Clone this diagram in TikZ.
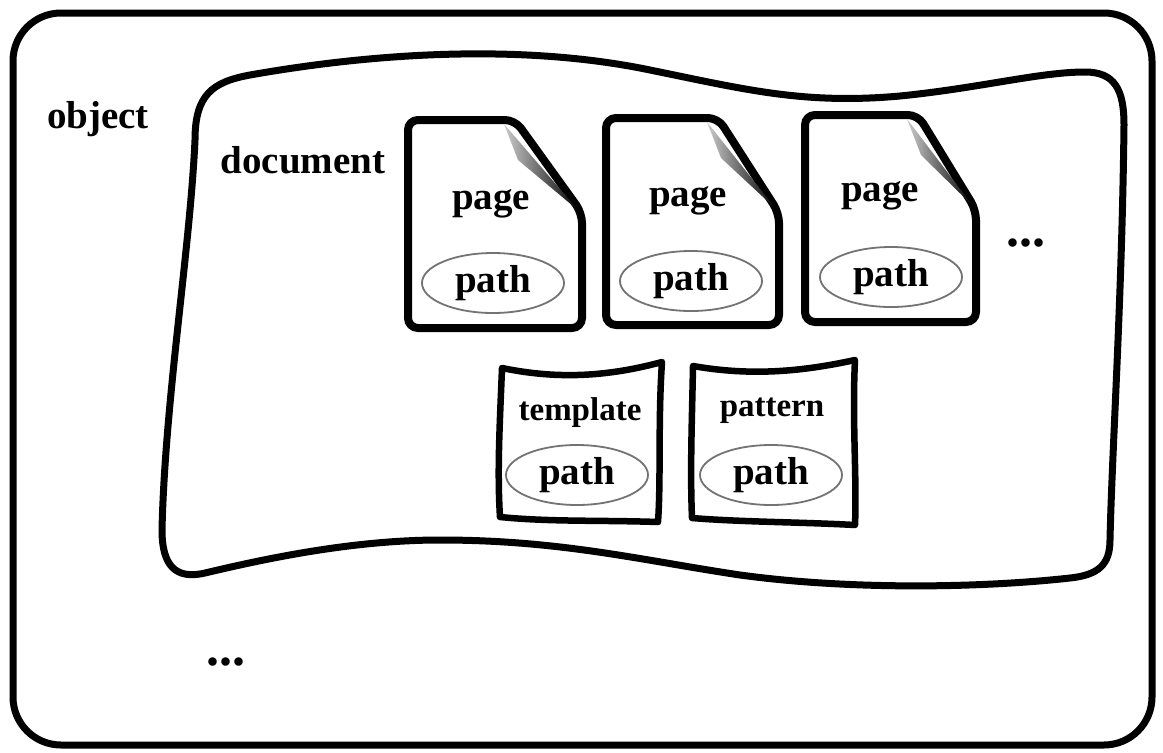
\documentclass[tikz,border=0pt]{standalone}
\usepackage{fontspec}
\setmainfont{Liberation Serif}
\usetikzlibrary{positioning, calc, shapes.geometric}

\begin{document}
\begin{tikzpicture}[x=1pt, y=-1pt,
    frame/.style={line width=7pt, rounded corners=48pt},
    blob/.style={line width=7pt, line join=round},
    sheet/.style={line width=8pt, rounded corners=10pt, fill=white},
    card/.style={line width=6.5pt, line join=round, fill=white},
    fold/.style={left color=black!20, right color=black},
    label/.style={font=\fontsize{39}{39}\selectfont\bfseries, inner sep=0pt},
    small/.style={font=\fontsize{33}{33}\selectfont\bfseries, inner sep=0pt},
    dots/.style={font=\fontsize{52}{52}\selectfont\bfseries, inner sep=0pt},
    pathnode/.style={ellipse, draw=black!55, line width=1.8pt, minimum width=142pt, minimum height=60pt, inner sep=0pt, font=\fontsize{39}{39}\selectfont\bfseries},
]
\useasboundingbox (0,0) rectangle (1163,753);

% outer object frame
\draw[frame] (13,13) rectangle (1152,745);
\node[label] (object) at (98,119) {object};

% document outline
\draw[blob] (195,140) .. controls (195,95) and (212,82) .. (250,75)
    .. controls (380,52) and (520,45) .. (640,68)
    .. controls (740,88) and (800,105) .. (900,96)
    .. controls (980,88) and (1040,72) .. (1085,72)
    .. controls (1115,72) and (1124,90) .. (1124,125)
    .. controls (1122,300) and (1112,450) .. (1110,540)
    .. controls (1110,565) and (1098,575) .. (1070,578)
    .. controls (980,588) and (850,590) .. (740,575)
    .. controls (640,560) and (560,540) .. (440,540)
    .. controls (350,540) and (260,560) .. (205,573)
    .. controls (175,580) and (162,565) .. (162,530)
    .. controls (165,400) and (190,250) .. cycle;
\node[label] (document) at (303,160) {document};

% pages, each with its curled corner
\draw[sheet] (408,120) -- (515,120) -- (582,213) -- (582,328) -- (408,328) -- cycle;
\shade[fold] (504,124) -- (579,211) -- (518,160) -- cycle;
\draw[sheet] (606,118) -- (718,118) -- (779,213) -- (779,325) -- (606,325) -- cycle;
\shade[fold] (707,122) -- (776,209) -- (721,158) -- cycle;
\draw[sheet] (805,115) -- (918,115) -- (976,210) -- (976,322) -- (805,322) -- cycle;
\shade[fold] (907,119) -- (973,206) -- (921,155) -- cycle;

\node[label] (page1) at (491,204) {page};
\node[label] (page2) at (688,201) {page};
\node[label] (page3) at (880,196) {page};
\node[pathnode] (path1) at (493,283) {path};
\node[pathnode] (path2) at (691,281) {path};
\node[pathnode] (path3) at (891,277) {path};
\node[dots] (more1) at (1026,243) {...};

% template and pattern cards
\draw[card] (502,368) .. controls (560,380) and (610,376) .. (662,362)
    .. controls (658,420) and (661,480) .. (658,522)
    .. controls (600,520) and (550,522) .. (500,517)
    .. controls (497,470) and (500,420) .. cycle;
\draw[card] (693,366) .. controls (750,376) and (800,372) .. (855,360)
    .. controls (852,420) and (857,480) .. (855,525)
    .. controls (800,522) and (740,522) .. (692,518)
    .. controls (690,470) and (692,420) .. cycle;

\node[small] (template) at (580,413) {template};
\node[small] (pattern) at (772,411) {pattern};
\node[pathnode] (path4) at (577,475) {path};
\node[pathnode] (path5) at (771,475) {path};

\node[dots] (more2) at (226,662) {...};
\end{tikzpicture}
\end{document}
